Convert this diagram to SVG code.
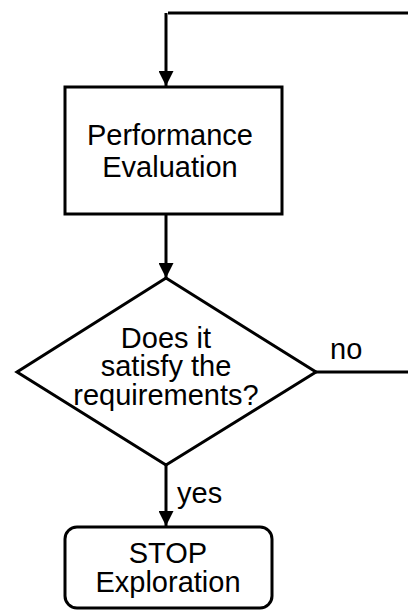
<svg xmlns="http://www.w3.org/2000/svg" width="408" height="610" viewBox="0 0 408 610">
<defs>
<marker id="ah" markerWidth="5" markerHeight="5" refX="5" refY="2.5" orient="auto" markerUnits="strokeWidth">
<path d="M0,0 L5,2.5 L0,5 Z" fill="#000"/>
</marker>
<style>
.s{fill:#fff;stroke:#000;stroke-width:3}
.c{fill:none;stroke:#000;stroke-width:3}
.t{font-family:"Liberation Sans",Arial,sans-serif;font-size:29px;fill:#000}
.m{text-anchor:middle}
</style>
</defs>
<rect width="408" height="610" fill="#fff"/>
<g id="connectors">
<path class="c" d="M408,13 L168,13"/>
<path class="c" d="M166,13 L166,86" marker-end="url(#ah)"/>
<path class="c" d="M166,214 L166,278" marker-end="url(#ah)"/>
<path class="c" d="M316,372 L408,372"/>
<path class="c" d="M166,465 L166,526" marker-end="url(#ah)"/>
<text class="t" x="330" y="359">no</text>
<text class="t" x="177" y="503">yes</text>
</g>
<g id="perf">
<rect class="s" x="65" y="87" width="217" height="127"/>
<text class="t m" x="170" y="145">Performance</text>
<text class="t m" x="170" y="177">Evaluation</text>
</g>
<g id="decision">
<path class="s" d="M166,278 L316,372 L166,465 L17,372 Z"/>
<text class="t m" x="166" y="348">Does it</text>
<text class="t m" x="166" y="376">satisfy the</text>
<text class="t m" x="166" y="405">requirements?</text>
</g>
<g id="stop">
<rect class="s" x="65" y="527" width="207" height="81" rx="12"/>
<text class="t m" x="168" y="563">STOP</text>
<text class="t m" x="168" y="592">Exploration</text>
</g>
</svg>
